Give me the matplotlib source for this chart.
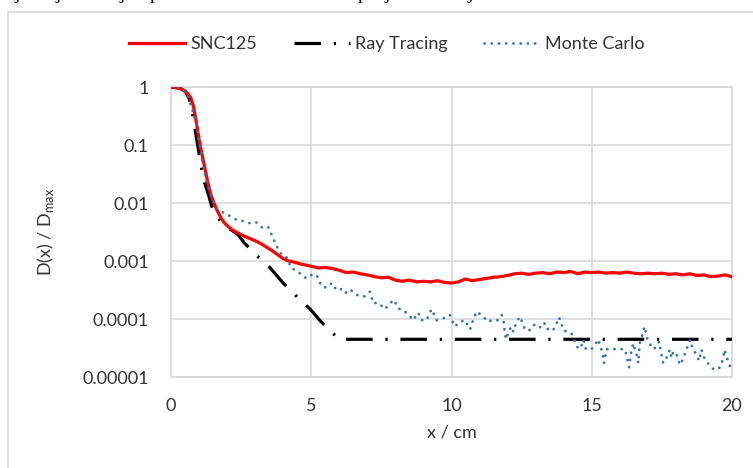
import numpy as np
import matplotlib
matplotlib.use("Agg")
import matplotlib.pyplot as plt
from matplotlib.patches import Rectangle

# ---------------- data ----------------
snc_x = [0, 0.2, 0.4, 0.55, 0.7, 0.8, 0.9, 1.0, 1.1, 1.2, 1.3, 1.4, 1.5, 1.6, 1.7, 1.8, 1.9, 2.0,
         2.2, 2.4, 2.6, 2.8, 3.0, 3.2, 3.4, 3.6, 3.8, 4.0, 4.2, 4.4, 4.6, 4.8, 5.0,
         5.25, 5.5, 5.75, 6.0, 6.25, 6.5, 6.75, 7.0, 7.25, 7.5, 7.75, 8.0, 8.25, 8.5, 8.75,
         9.0, 9.25, 9.5, 9.75, 10.0, 10.25, 10.5, 10.75, 11.0, 11.25, 11.5, 11.75, 12.0,
         12.25, 12.5, 12.75, 13.0, 13.25, 13.5, 13.75, 14.0, 14.25, 14.5, 14.75, 15.0,
         15.25, 15.5, 15.75, 16.0, 16.25, 16.5, 16.75, 17.0, 17.25, 17.5, 17.75, 18.0,
         18.25, 18.5, 18.75, 19.0, 19.25, 19.5, 19.75, 20.0]
snc_log10 = [0, -0.01, -0.04, -0.09, -0.18, -0.33, -0.6, -0.9, -1.15, -1.38, -1.62, -1.82, -1.96,
             -2.08, -2.18, -2.27, -2.34, -2.39,
             -2.47, -2.52, -2.57, -2.61, -2.65, -2.70, -2.76, -2.82, -2.89, -2.96, -3.0, -3.02,
             -3.05, -3.07, -3.09,
             -3.12, -3.11, -3.13, -3.16, -3.20, -3.19, -3.22, -3.24, -3.27, -3.29, -3.28, -3.33,
             -3.35, -3.33, -3.36,
             -3.35, -3.36, -3.34, -3.37, -3.38, -3.36, -3.31, -3.34, -3.32, -3.30, -3.28, -3.27,
             -3.25,
             -3.22, -3.21, -3.23, -3.21, -3.20, -3.22, -3.19, -3.20, -3.18, -3.22, -3.19, -3.20,
             -3.19, -3.21, -3.20, -3.21, -3.19, -3.21, -3.22, -3.21, -3.22, -3.21, -3.23, -3.22,
             -3.24, -3.22, -3.25, -3.24, -3.27, -3.26, -3.24, -3.27]

ray_x = [0, 0.3, 0.5, 0.65, 0.8, 0.9, 1.0, 1.1, 1.2, 1.32, 1.45, 1.6, 1.8, 2.0, 2.2, 2.4, 2.6,
         2.8, 3.0, 3.5, 4.0, 4.5, 5.0, 5.3, 5.5, 5.6, 5.75, 5.9, 6.0, 20.0]
ray_log10 = [0, -0.02, -0.07, -0.2, -0.55, -0.85, -1.15, -1.43, -1.65, -1.83, -2.05, -2.2, -2.33,
             -2.42, -2.48, -2.55, -2.68, -2.78, -2.88, -3.1, -3.38, -3.62, -3.85, -4.02, -4.12,
             -4.18, -4.24, -4.3, -4.35, -4.35]

mc_x = [0, 0.2, 0.35, 0.56, 0.68, 0.8, 0.92, 1.03, 1.15, 1.27, 1.45, 1.63, 1.8, 1.98, 2.15, 2.34,
        2.55, 2.82, 3.03, 3.15, 3.29, 3.47, 3.59, 3.77, 3.95, 4.12, 4.3, 4.48, 4.72, 4.84, 5.01,
        5.19, 5.37, 5.55, 5.73, 5.9, 6.05, 6.2, 6.38, 6.55, 6.68, 6.91, 7.09, 7.21, 7.39, 7.63,
        7.8, 7.95, 8.1, 8.28, 8.52, 8.64, 8.81, 8.93, 9.11, 9.29, 9.47, 9.7, 9.94, 10.12, 10.3,
        10.48, 10.66, 10.77, 10.9, 11.13, 11.31, 11.43, 11.66, 11.79, 11.86, 11.9, 11.95, 12.03,
        12.14, 12.2, 12.32, 12.44, 12.56, 12.62, 12.8, 12.91, 13.03, 13.21, 13.33, 13.45, 13.63,
        13.75, 13.83, 13.92, 13.98, 14.16, 14.28, 14.36, 14.46, 14.52, 14.64, 14.7, 14.79, 14.99,
        15.11, 15.23, 15.29, 15.35, 15.41, 15.44, 15.53, 15.94, 16.18, 16.24, 16.33, 16.37, 16.42,
        16.48, 16.54, 16.6, 16.66, 16.71, 16.77, 16.83, 16.89, 16.95, 17.01, 17.19, 17.31, 17.4,
        17.45, 17.55, 17.64, 17.72, 17.78, 17.84, 17.9, 17.99, 18.08, 18.14, 18.26, 18.38, 18.44,
        18.5, 18.56, 18.63, 18.73, 18.83, 18.91, 18.99, 19.08, 19.24, 19.4, 19.59, 19.66, 19.74,
        19.8, 19.86, 19.94, 20.0]
mc_log10 = [0.0, 0.0, -0.02, -0.11, -0.28, -0.45, -0.68, -1.03, -1.37, -1.66, -1.89, -2.09, -2.15,
            -2.19, -2.24, -2.29, -2.31, -2.35, -2.33, -2.38, -2.44, -2.42, -2.55, -2.75, -2.9,
            -2.94, -3.13, -3.16, -3.27, -3.30, -3.24, -3.24, -3.44, -3.46, -3.38, -3.5, -3.48,
            -3.56, -3.49, -3.56, -3.6, -3.61, -3.53, -3.73, -3.72, -3.83, -3.73, -3.67, -3.82,
            -3.84, -3.96, -4.02, -3.89, -4.02, -4.02, -3.83, -4.02, -3.99, -3.93, -4.13, -4.05,
            -4.02, -4.18, -4.02, -3.87, -3.96, -4.05, -4.02, -4.02, -3.93, -4.05, -4.25, -4.35,
            -4.22, -4.13, -4.22, -4.05, -3.96, -4.1, -4.19, -4.19, -4.11, -4.09, -4.16, -4.07,
            -4.19, -4.19, -4.07, -3.97, -4.07, -4.19, -4.23, -4.25, -4.35, -4.45, -4.52, -4.45,
            -4.36, -4.52, -4.52, -4.45, -4.35, -4.45, -4.53, -4.65, -4.76, -4.52, -4.52, -4.52,
            -4.62, -4.83, -4.69, -4.53, -4.42, -4.53, -4.62, -4.76, -4.42, -4.34, -4.22, -4.13,
            -4.3, -4.38, -4.52, -4.48, -4.39, -4.53, -4.76, -4.7, -4.6, -4.53, -4.67, -4.57, -4.57,
            -4.68, -4.79, -4.69, -4.52, -4.45, -4.36, -4.45, -4.53, -4.62, -4.72, -4.53, -4.65,
            -4.72, -4.83, -4.88, -4.83, -4.72, -4.53, -4.65, -4.72, -4.83, -4.85]

series_names = ["SNC125", "Ray Tracing", "Monte Carlo"]
y_ticks = [1e-5, 1e-4, 1e-3, 1e-2, 1e-1, 1]
y_tick_labels = ["0.00001", "0.0001", "0.001", "0.01", "0.1", "1"]
x_ticks = [0, 5, 10, 15, 20]
x_tick_labels = ["0", "5", "10", "15", "20"]

# ---------------- figure ----------------
plt.rcParams['font.family'] = ['Lato', 'DejaVu Sans']
plt.rcParams['mathtext.fontset'] = 'custom'
plt.rcParams['mathtext.rm'] = 'Lato'

W, H = 753, 468
fig = plt.figure(figsize=(W / 100, H / 100), dpi=100)
fig.patch.set_facecolor('white')

# outer chart border (extends beyond right/bottom of the image)
fig.add_artist(Rectangle((8 / W, -0.2), 1.2, 1.2 - 12 / H, transform=fig.transFigure,
                         fill=False, edgecolor='#D9D9D9', lw=1.2))

# clipped descenders of document text above the chart (cut off in the reference too)
for px, ch in [(17, 'j'), (58, 'j'), (122, 'j'), (155, 'p'), (362, 'p'), (387, 'j'), (470, 'j')]:
    fig.text(px / W, 1 + 1.0 / H, ch, family='Liberation Serif', fontsize=14,
             ha='center', va='baseline', color='black')

left, right, top, bottom = 171, 732, 87, 377
ax = fig.add_axes([left / W, 1 - bottom / H, (right - left) / W, (bottom - top) / H])

txt = '#333333'
grid_c = '#D9D9D9'

snc_y = [10 ** v for v in snc_log10]
ray_y = [10 ** v for v in ray_log10]
mc_y = [10 ** v for v in mc_log10]

ax.plot(snc_x, snc_y, color='#FF0000', lw=2.3, label=series_names[0], zorder=4,
        solid_joinstyle='round')
l_ray, = ax.plot(ray_x, ray_y, color='black', lw=2.3, label=series_names[1], zorder=3)
l_ray.set_dashes([8.3, 4.0, 0.7, 4.0])
l_mc, = ax.plot(mc_x, mc_y, color='#2E75B6', lw=2.0, label=series_names[2], zorder=5,
                dash_capstyle='round')
l_mc.set_dashes([0.05, 2.55])

ax.set_yscale('log')
ax.set_xlim(0, 20)
ax.set_ylim(1e-5, 1)
ax.set_yticks(y_ticks)
ax.set_yticklabels(y_tick_labels)
ax.set_xticks(x_ticks)
ax.set_xticklabels(x_tick_labels)
ax.yaxis.set_minor_locator(matplotlib.ticker.NullLocator())
ax.tick_params(axis='both', length=0, labelsize=13, colors=txt)
ax.tick_params(axis='y', pad=16)
ax.tick_params(axis='x', pad=15)
ax.grid(True, color=grid_c, lw=1.2)
ax.set_axisbelow(True)
for s in ax.spines.values():
    s.set_color(grid_c)
    s.set_linewidth(1.2)

ax.set_xlabel('x / cm', fontsize=13, color=txt)
ax.xaxis.set_label_coords(0.5, -0.165)
ax.set_ylabel('D(x) / D$_{\\mathregular{max}}$', fontsize=13, color=txt)
ax.yaxis.set_label_coords(-0.205, 0.5)

leg = fig.legend(loc='center', bbox_to_anchor=(387 / W, 1 - 44 / H), ncol=3, frameon=False,
                 fontsize=13, handlelength=3.1, handletextpad=0.3, columnspacing=2.0,
                 labelcolor=txt)

fig.savefig('out.png', dpi=100, facecolor='white')
